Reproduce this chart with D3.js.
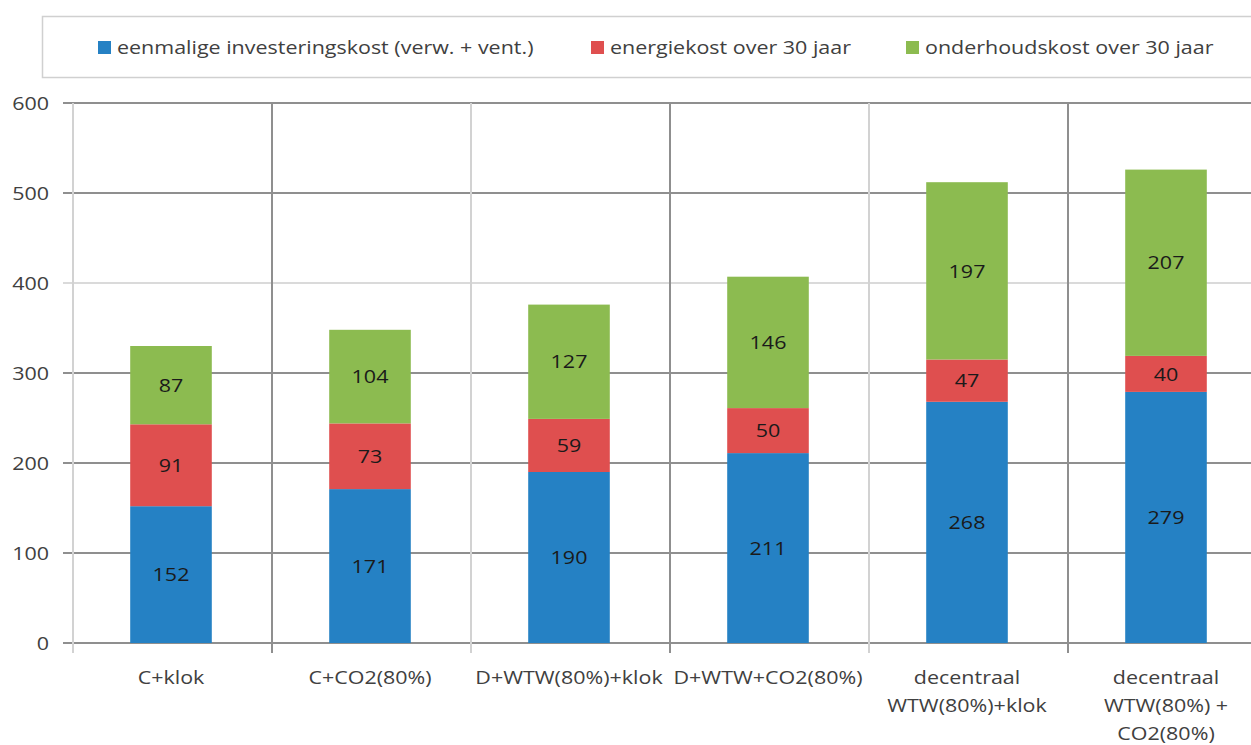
<!DOCTYPE html>
<html><head><meta charset="utf-8">
<script src="https://cdn.jsdelivr.net/npm/d3@7"></script>
<style>body{margin:0;background:#fff}svg{display:block}</style>
</head><body><svg id="c" width="1251" height="745"></svg>
<script>
const categories = [
  ["C+klok"],
  ["C+CO2(80%)"],
  ["D+WTW(80%)+klok"],
  ["D+WTW+CO2(80%)"],
  ["decentraal","WTW(80%)+klok"],
  ["decentraal","WTW(80%) +","CO2(80%)"]
];
const seriesNames = ["eenmalige investeringskost (verw. + vent.)","energiekost over 30 jaar","onderhoudskost over 30 jaar"];
const investering = [152,171,190,211,268,279];
const energie = [91,73,59,50,47,40];
const onderhoud = [87,104,127,146,197,207];
const yTicks = [0,100,200,300,400,500,600];
const colors = ["#2581c4","#df4f4f","#8cbb50"];

const svg = d3.select("#c");
const font = "'Open Sans', sans-serif";
const FS = 19, SX = 1.13;
function txt(parent, x, y, s, anchor, fill){
  const g = parent.append("g").attr("transform",`translate(${x},${y}) scale(${SX},1)`);
  g.append("text").attr("x",0).attr("y",0).attr("dy","0.35em").attr("text-anchor",anchor)
    .attr("font-family",font).attr("font-size",FS).attr("fill",fill).text(s);
  return g;
}

const x = d3.scaleBand().domain(d3.range(categories.length)).range([73,1267]).paddingInner(0).paddingOuter(0);
const y = d3.scaleLinear().domain([0,600]).range([643,103]);

// horizontal gridlines
svg.append("g").selectAll("line").data(yTicks).join("line")
  .attr("x1",63).attr("x2",1251).attr("y1",d=>y(d)).attr("y2",d=>y(d))
  .attr("stroke",d=>d===400?"#dadada":"#8f8f8f").attr("stroke-width",2);
// vertical gridlines at band boundaries
const bounds = d3.range(categories.length).map(i=>x(i));
svg.append("g").selectAll("line").data(bounds).join("line")
  .attr("x1",d=>d).attr("x2",d=>d).attr("y1",y(600)).attr("y2",653)
  .attr("stroke",(d,i)=>i%2===1?"#8f8f8f":"#d2d2d2").attr("stroke-width",2);

// y axis labels
const ya = svg.append("g");
yTicks.forEach(d=>txt(ya, 49, y(d), d, "end", "#404040"));

// stack
const rows = categories.map((c,i)=>({i, a:investering[i], b:energie[i], c:onderhoud[i]}));
const stack = d3.stack().keys(["a","b","c"])(rows);
const bw = x.bandwidth()*0.41;
stack.forEach((layer,k)=>{
  const g = svg.append("g");
  g.selectAll("rect").data(layer).join("rect")
    .attr("x",d=>x(d.data.i)+x.bandwidth()/2-bw/2-1.5).attr("width",bw)
    .attr("y",d=>y(d[1])).attr("height",d=>y(d[0])-y(d[1]))
    .attr("fill",colors[k]);
  const gl = svg.append("g");
  layer.forEach(d=>txt(gl, x(d.data.i)+x.bandwidth()/2-1.5, (y(d[0])+y(d[1]))/2, d[1]-d[0], "middle", "#1a1a1a"));
});

// x labels
const xa = svg.append("g");
categories.forEach((lines,i)=>{
  lines.forEach((ln,j)=>txt(xa, x(i)+x.bandwidth()/2-1.5, 677+j*28, ln, "middle", "#404040"));
});

// legend
svg.append("rect").attr("x",42.5).attr("y",16.5).attr("width",1240).attr("height",61)
  .attr("fill","none").attr("stroke","#d0d0d0").attr("stroke-width",1.5);
const legX = [98,591,906];
const lg = svg.append("g");
seriesNames.forEach((n,k)=>{
  lg.append("rect").attr("x",legX[k]).attr("y",41).attr("width",13).attr("height",13).attr("fill",colors[k]);
  txt(lg, legX[k]+19, 47, n, "start", "#404040");
});
</script></body></html>
